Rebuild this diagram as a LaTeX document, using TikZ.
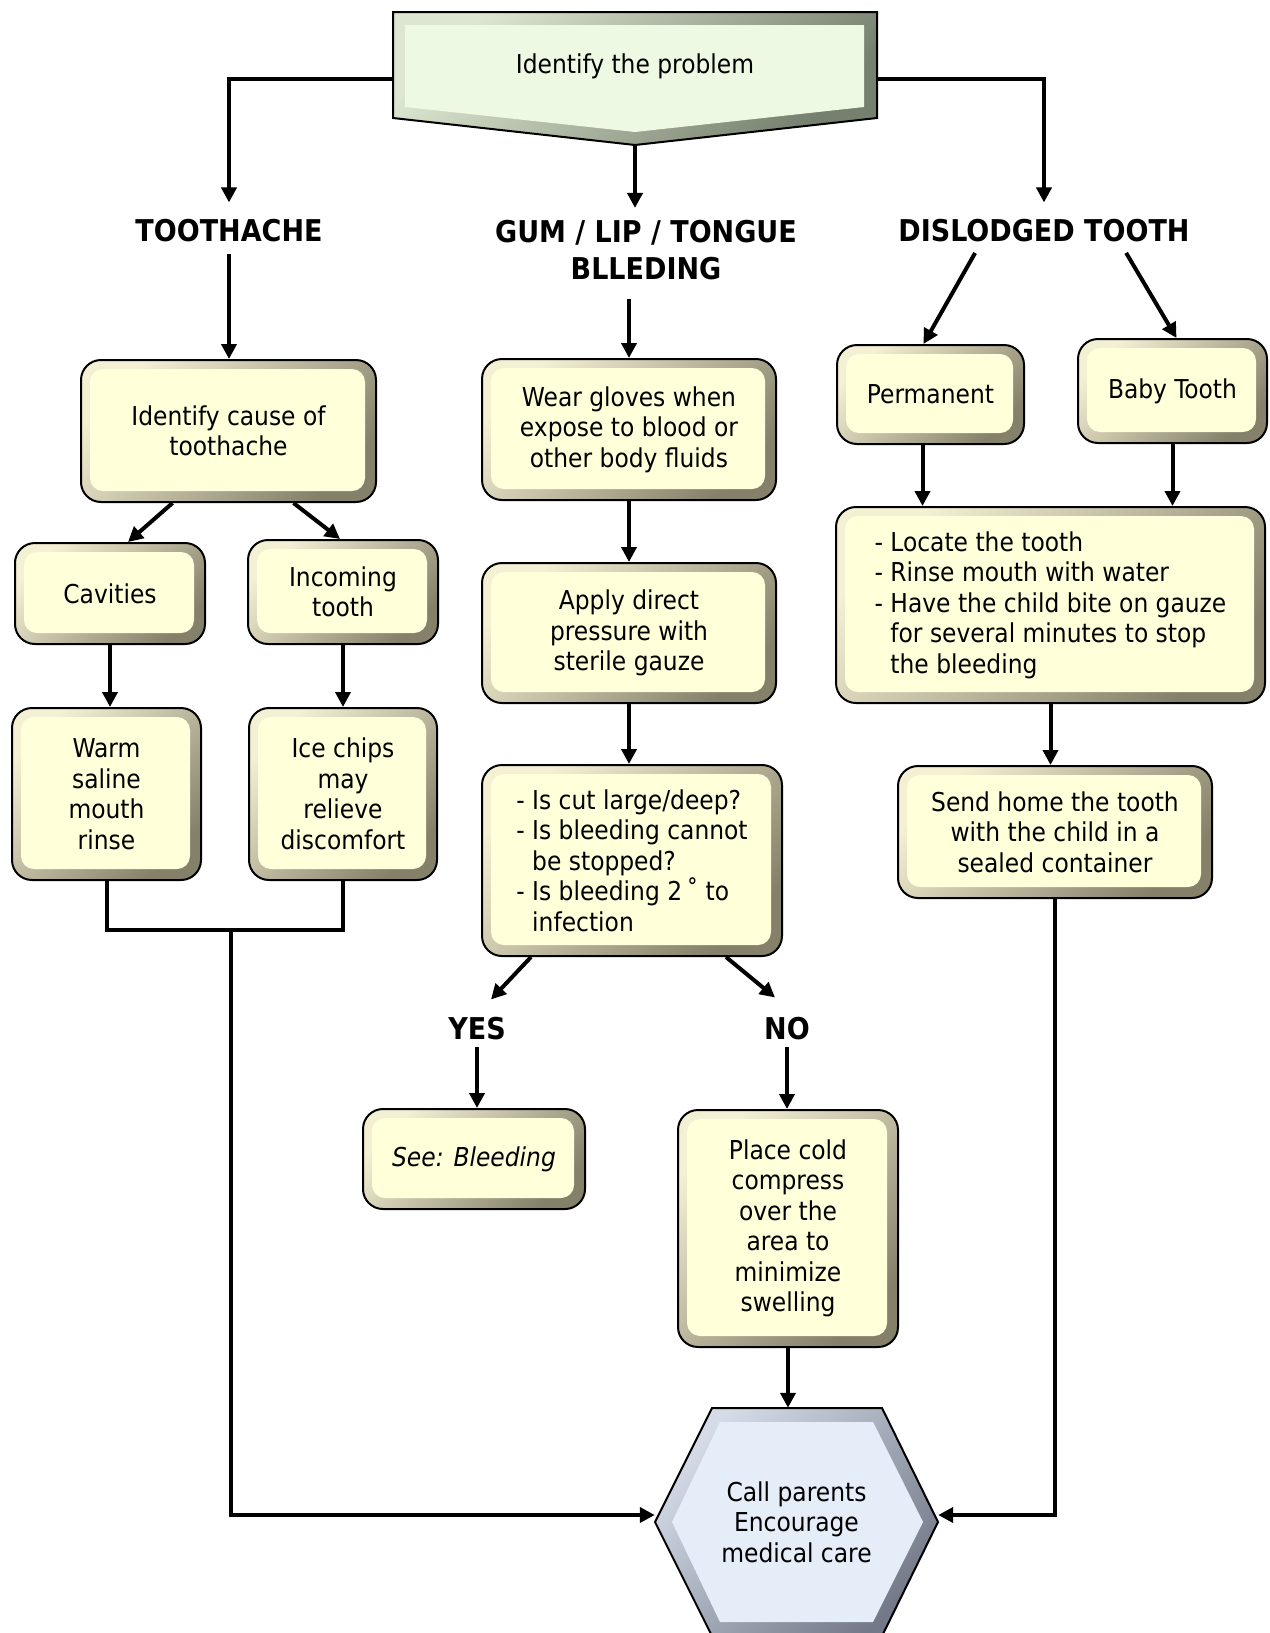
\documentclass[tikz,border=0pt]{standalone}
\usepackage{fontspec}
\setmainfont{DejaVu Sans Condensed}
\usetikzlibrary{arrows.meta,calc}
\definecolor{boxin}{HTML}{FFFFDA}
\definecolor{bevL}{HTML}{F4F0D4}
\definecolor{bevD}{HTML}{858069}
\definecolor{grnin}{HTML}{EEF9E4}
\definecolor{grnL}{HTML}{DCE6D0}
\definecolor{grnD}{HTML}{76806E}
\definecolor{bluin}{HTML}{E5EDF9}
\definecolor{bluL}{HTML}{D5DCE8}
\definecolor{bluD}{HTML}{737988}
\begin{document}
\begin{tikzpicture}[x=1pt,y=-1pt,
  bev/.style={draw=black, line width=2pt, rounded corners=20pt, top color=bevL, bottom color=bevD, shading angle=45, inner sep=0pt, align=center, font=\fontsize{26}{30.5}\selectfont,
   path picture={\fill[boxin, rounded corners=13pt] ([xshift=9pt,yshift=-9pt]path picture bounding box.north west) rectangle ([xshift=-11pt,yshift=11pt]path picture bounding box.south east);}},
  hdr/.style={font=\fontsize{30}{37}\selectfont\bfseries, inner sep=0pt, align=center},
  arr/.style={line width=4pt, -{Triangle[length=15pt,width=15pt]}},
  ln/.style={line width=4pt},
]
\useasboundingbox (0,0) rectangle (1269,1633);
\fill[white] (0,0) rectangle (1269,1633);

% top shape
\shadedraw[top color=grnL, bottom color=grnD, shading angle=45, draw=black, line width=2pt]
  (393,12) -- (877,12) -- (877,118) -- (635,145) -- (393,118) -- cycle;
\fill[grnin] (405,25) -- (864,25) -- (864,107) -- (635,132) -- (405,107) -- cycle;
\node[minimum width=484pt, minimum height=133pt, inner sep=0pt, text height=18pt, text depth=29pt, font=\fontsize{26}{30.5}\selectfont] (top) at (635,78.5) {Identify the problem};

% headers
\node[hdr] (tooth) at (229,231) {TOOTHACHE};
\node[hdr] (gum) at (646,250) {GUM / LIP / TONGUE\\BLLEDING};
\node[hdr] (dis) at (1044,231) {DISLODGED TOOTH};
\node[hdr] (yes) at (477,1029) {YES};
\node[hdr] (no) at (787,1029) {NO};

% boxes
\node[bev, minimum width=295pt, minimum height=142pt] (cause) at (228.5,431) {Identify cause of\\toothache};
\node[bev, minimum width=190pt, minimum height=101pt] (cav) at (110,593.5) {Cavities};
\node[bev, minimum width=190pt, minimum height=104pt] (inc) at (343,592) {Incoming\\tooth};
\node[bev, minimum width=189pt, minimum height=172pt] (warm) at (106.5,794) {Warm\\saline\\mouth\\rinse};
\node[bev, minimum width=188pt, minimum height=172pt] (ice) at (343,794) {Ice chips\\may\\relieve\\discomfort};
\node[bev, minimum width=294pt, minimum height=141pt] (wear) at (629,429.5) {Wear gloves when\\expose to blood or\\other body fluids};
\node[bev, minimum width=294pt, minimum height=140pt] (apply) at (629,633) {Apply direct\\pressure with\\sterile gauze};
\node[bev, minimum width=300pt, minimum height=191pt, align=left] (q) at (632,860.5) {- Is cut large/deep?\\- Is bleeding cannot\\\phantom{- }be stopped?\\- Is bleeding 2\,˚ to\\\phantom{- }infection};
\node[bev, minimum width=222pt, minimum height=100pt] (see) at (474,1159) {\itshape See: Bleeding};
\node[bev, minimum width=220pt, minimum height=237pt] (place) at (788,1228.5) {Place cold\\compress\\over the\\area to\\minimize\\swelling};
\node[bev, minimum width=187pt, minimum height=99pt] (perm) at (930.5,394.5) {Permanent};
\node[bev, minimum width=189pt, minimum height=104pt] (baby) at (1172.5,391) {Baby Tooth};
\node[bev, minimum width=429pt, minimum height=196pt, align=left] (locate) at (1050.5,605) {- Locate the tooth\\- Rinse mouth with water\\- Have the child bite on gauze\\\phantom{- }for several minutes to stop\\\phantom{- }the bleeding};
\node[bev, minimum width=314pt, minimum height=132pt] (send) at (1055,832) {Send home the tooth\\with the child in a\\sealed container};

% hexagon
\shadedraw[top color=bluL, bottom color=bluD, shading angle=45, draw=black, line width=2pt]
  (655,1522) -- (712,1408) -- (882,1408) -- (938,1522) -- (882,1636) -- (712,1636) -- cycle;
\fill[bluin] (672,1522) -- (720,1422) -- (873,1422) -- (923,1522) -- (873,1622) -- (720,1622) -- cycle;
\node[minimum width=283pt, minimum height=228pt, inner sep=0pt, align=center, font=\fontsize{26}{30.5}\selectfont] (hex) at (796.5,1522) {Call parents\\Encourage\\medical care};

\coordinate (jl) at (231,930);

% connectors
\draw[arr,shorten >=17pt] (top.west) -| (tooth.north);
\draw[arr,shorten >=17pt] (top.east) -| (dis.north);
\draw[arr,shorten >=12pt] (top.south) -- (top.south |- gum.north);
\draw[arr,shorten <=11pt] (tooth.south) -- (tooth.south |- cause.north);
\draw[arr,shorten <=19pt] (wear.north |- gum.south) -- (wear.north);
\draw[arr,shorten <=12pt] ([xshift=-63pt]dis.south) -- ([xshift=-7pt]perm.north);
\draw[arr,shorten <=12pt] ([xshift=76pt]dis.south) -- ([xshift=4pt]baby.north);
\draw[arr] ([xshift=-56pt]cause.south) -- ([xshift=18pt]cav.north);
\draw[arr] ([xshift=65pt]cause.south) -- ([xshift=-3pt]inc.north);
\draw[arr] (cav.south) -- (cav.south |- warm.north);
\draw[arr] (inc.south) -- (inc.south |- ice.north);
\draw[arr] (wear.south) -- (wear.south |- apply.north);
\draw[arr] (apply.south) -- (apply.south |- q.north);
\draw[arr] ([xshift=-101pt]q.south) -- ([xshift=14pt,yshift=18pt]yes.north);
\draw[arr] ([xshift=94pt]q.south) -- ([xshift=-12pt,yshift=20pt]no.north);
\draw[arr,shorten <=6.5pt] (yes.south) -- (yes.south |- see.north);
\draw[arr,shorten <=6.5pt] (no.south) -- (no.south |- place.north);
\draw[arr] (place.south) -- (place.south |- hex.north);
\draw[arr] ([xshift=-8pt]perm.south) -- ([xshift=-8pt]perm.south |- locate.north);
\draw[arr] (baby.south) -- (baby.south |- locate.north);
\draw[arr] (locate.south) -- (locate.south |- send.north);
\draw[ln] (warm.south) -- (warm.south |- jl) -- (ice.south |- jl) -- (ice.south);
\draw[arr] (jl) |- ([yshift=7pt]hex.west);
\draw[arr] (send.south) |- ([yshift=7pt]hex.east);
\end{tikzpicture}
\end{document}
